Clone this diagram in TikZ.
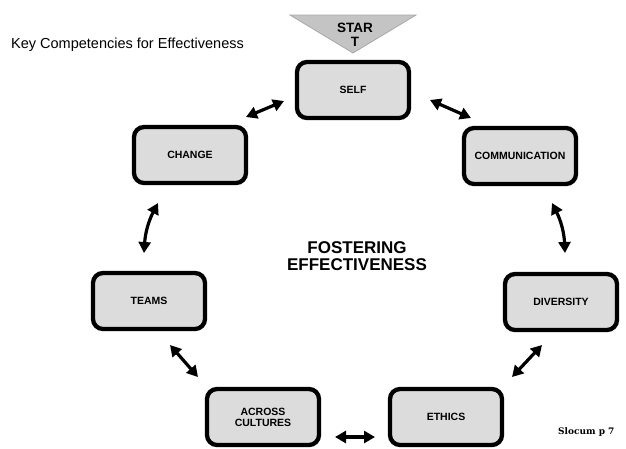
\documentclass[tikz,border=0pt]{standalone}
\usepackage{fontspec}
\setmainfont{Liberation Sans}
\newfontfamily\slabfont{DejaVu Serif}
\usetikzlibrary{arrows.meta,calc}
\definecolor{boxgray}{HTML}{DCDCDC}
\definecolor{trigray}{HTML}{C4C4C4}
\definecolor{triedge}{HTML}{A8A8A8}
\tikzset{
  compbox/.style={draw=black, line width=4.3pt, rounded corners=10pt, fill=boxgray,
    minimum width=112pt, minimum height=56pt, align=center,
    font=\fontsize{10.5}{11}\selectfont\bfseries, inner sep=0pt},
  dblarrow/.style={line width=3.2pt, {Triangle[length=11pt,width=12pt]}-{Triangle[length=11pt,width=12pt]}}
}
\begin{document}
\begin{tikzpicture}[x=1pt,y=-1pt]
\useasboundingbox (0,0) rectangle (626,448);
% start triangle
\filldraw[fill=trigray, draw=triedge, line width=0.8pt] (290,15) -- (416,15) -- (353,53) -- cycle;
\node[font=\fontsize{13.5}{14}\selectfont\bfseries, align=center] (start) at (355,35) {STAR\\T};
% title
\node[font=\fontsize{14.5}{16}\selectfont, anchor=west, inner sep=0pt] (title) at (11,45) {Key Competencies for Effectiveness};
% boxes
\node[compbox] (self) at (353,90) {SELF};
\node[compbox] (change) at (190,155) {CHANGE};
\node[compbox] (comm) at (520,156) {COMMUNICATION};
\node[compbox] (teams) at (149,301) {TEAMS};
\node[compbox] (div) at (561,302) {DIVERSITY};
\node[compbox] (across) at (263,417) {ACROSS\\CULTURES};
\node[compbox] (ethics) at (446,417) {ETHICS};
% centre text
\node[font=\fontsize{17}{17}\selectfont\bfseries, align=center] (center) at (357,256) {FOSTERING\\EFFECTIVENESS};
% footer
\node[font=\slabfont\bfseries\fontsize{9}{10}\selectfont, anchor=west, inner sep=0pt] (foot) at (558,432) {Slocum p 7};
% arrows
\draw[dblarrow] ($(change)+(56,-38)$) -- ($(self)+(-69,11)$);
\draw[dblarrow] ($(self)+(77,10)$) -- ($(comm)+(-49,-38)$);
\draw[dblarrow] ($(comm)+(32,47)$) to[bend left=12] ($(div)+(4,-49)$);
\draw[dblarrow] ($(change)+(-32,48)$) to[bend right=12] ($(teams)+(-5,-48)$);
\draw[dblarrow] ($(teams)+(21,44)$) -- ($(across)+(-65,-40)$);
\draw[dblarrow] ($(div)+(-19,43)$) -- ($(ethics)+(66,-40)$);
\draw[dblarrow] ($(across)+(72,20)$) -- ($(ethics)+(-71,20)$);
\end{tikzpicture}
\end{document}
